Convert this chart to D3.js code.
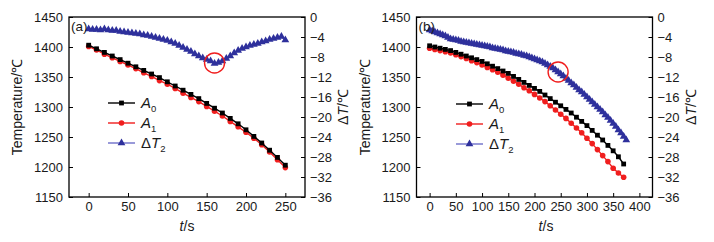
<!DOCTYPE html>
<html>
<head>
<meta charset="utf-8">
<script src="https://cdn.jsdelivr.net/npm/d3@7"></script>
<style>
  body { margin: 0; background: #fff; }
  svg { display: block; font-family: "Liberation Sans", Arial, sans-serif; }
</style>
</head>
<body>
<svg id="chart"></svg>
<script>
// Data
// panel (a): A0 and A1 every 10 s, dT2 every 5 s
const timeA = d3.range(0, 251, 10);
const a0A = [1403, 1397, 1391, 1385, 1379, 1373, 1367, 1361, 1355, 1349, 1342, 1335, 1328, 1321, 1314, 1306,
  1298, 1290, 1281, 1272, 1262, 1251, 1240, 1228, 1216, 1203];
const a1A = [1401, 1395, 1388, 1382, 1376, 1370, 1364, 1357, 1351, 1344, 1338, 1331, 1323, 1316, 1309, 1301,
  1293, 1285, 1276, 1267, 1258, 1248, 1237, 1225, 1212, 1199];
const dtTimeA = d3.range(0, 251, 5);
const dtA = [-2.4, -2.5, -2.5, -2.6, -2.4, -2.6, -2.7, -2.7, -2.9, -3.0, -3.1, -3.2, -3.3, -3.4, -3.6, -3.7,
  -3.9, -4.1, -4.3, -4.5, -4.7, -5.0, -5.3, -5.7, -6.1, -6.5, -6.9, -7.4, -7.8, -8.2, -8.5, -8.8, -9.3, -9.1,
  -8.8, -8.3, -7.8, -7.2, -6.7, -6.3, -6.0, -5.7, -5.5, -5.3, -5.0, -4.8, -4.5, -4.3, -4.1, -3.9, -4.6];

// panel (b)
const timeB = d3.range(0, 371, 10);
const a0B = [1402, 1400, 1398, 1396, 1394, 1391, 1388, 1385, 1382, 1379, 1376, 1372, 1368, 1364, 1360, 1356,
  1351, 1346, 1341, 1336, 1331, 1326, 1320, 1314, 1308, 1302, 1296, 1290, 1283, 1276, 1269, 1261, 1253, 1245,
  1236, 1227, 1217, 1205];
const a1B = [1398, 1396, 1394, 1392, 1390, 1387, 1384, 1381, 1377, 1374, 1370, 1366, 1362, 1358, 1353, 1348,
  1343, 1338, 1332, 1327, 1321, 1315, 1309, 1302, 1295, 1288, 1281, 1273, 1265, 1257, 1248, 1239, 1229, 1219,
  1209, 1198, 1190, 1183];
const dtTimeB = d3.range(0, 376, 5);
const dtB = [-2.6, -2.8, -3.0, -3.2, -3.4, -3.6, -3.8, -4.1, -4.4, -4.5, -4.6, -4.7, -4.9, -5.0, -5.1, -5.2,
  -5.3, -5.4, -5.5, -5.6, -5.7, -5.8, -5.9, -6.0, -6.2, -6.3, -6.4, -6.5, -6.6, -6.8, -6.9, -7.0, -7.1, -7.3,
  -7.4, -7.5, -7.7, -7.8, -8.0, -8.2, -8.4, -8.6, -8.8, -9.0, -9.3, -9.6, -9.9, -10.2, -10.6, -11.0, -11.4,
  -11.8, -12.3, -12.7, -13.2, -13.6, -14.1, -14.6, -15.0, -15.5, -16.0, -16.5, -17.0, -17.5, -18.0, -18.5,
  -19.0, -19.6, -20.1, -20.7, -21.3, -21.9, -22.6, -23.2, -23.9, -24.6];

// axis ticks
const tempTicks = d3.range(1150, 1451, 50);
const dtTicks = d3.range(-36, 1, 4);
const timeTicksA = d3.range(0, 251, 50);
const timeTicksB = d3.range(0, 401, 50);

// red circled points
const markA = { t: 160, dt: -9.2 };
const markB = { t: 245, dt: -11.0 };

const width = 714;
const height = 242;
const plotTop = 17, plotBottom = 197;

const svg = d3.select('#chart').attr('width', width).attr('height', height);
svg.append('rect').attr('width', width).attr('height', height).attr('fill', '#fff');

const blue = '#2e309c';
const lightBlue = '#6d6fc9';
const red = '#f01e1e';
const fmt = d3.format('d');

function drawPanel(opt) {
  const x = d3.scaleLinear().domain(opt.xDomain).range([opt.left, opt.right]);
  const yT = d3.scaleLinear().domain([1150, 1450]).range([plotBottom, plotTop]);
  const yD = d3.scaleLinear().domain([-36, 0]).range([plotBottom, plotTop]);
  const g = svg.append('g');

  // axes
  const styleAxis = sel => {
    sel.select('.domain').remove();
    sel.selectAll('line').attr('stroke', '#000').attr('stroke-width', 1);
    sel.selectAll('text').attr('fill', '#1a1a1a').style('font-size', '13px');
  };
  g.append('g').attr('transform', `translate(${opt.left},0)`)
    .call(d3.axisLeft(yT).tickValues(tempTicks).tickFormat(fmt).tickSize(-4).tickPadding(6))
    .call(styleAxis);
  g.append('g').attr('transform', `translate(${opt.right},0)`)
    .call(d3.axisRight(yD).tickValues(dtTicks).tickFormat(fmt).tickSize(-4).tickPadding(5))
    .call(styleAxis);
  g.append('g').attr('transform', `translate(0,${plotBottom})`)
    .call(d3.axisBottom(x).tickValues(opt.xTicks).tickFormat(fmt).tickSize(-4).tickPadding(5))
    .call(styleAxis);

  // frame
  g.append('rect')
    .attr('x', opt.left).attr('y', plotTop)
    .attr('width', opt.right - opt.left).attr('height', plotBottom - plotTop)
    .attr('fill', 'none').attr('stroke', '#000').attr('stroke-width', 1.3);

  // dT2 series
  const dtData = opt.dtTime.map((t, i) => [t, opt.dt[i]]);
  g.append('path').datum(dtData)
    .attr('fill', 'none').attr('stroke', lightBlue).attr('stroke-width', 1.8)
    .attr('d', d3.line().x(d => x(d[0])).y(d => yD(d[1])));
  const tri = d3.symbol().type(d3.symbolTriangle).size(26);
  g.append('g').selectAll('path').data(dtData).join('path')
    .attr('d', tri)
    .attr('transform', d => `translate(${x(d[0])},${yD(d[1])})`)
    .attr('fill', blue);

  // A1 (red) then A0 (black) on top
  const lineT = d3.line().x(d => x(d[0])).y(d => yT(d[1]));
  const a1Data = opt.time.map((t, i) => [t, opt.a1[i]]);
  const a0Data = opt.time.map((t, i) => [t, opt.a0[i]]);
  g.append('path').datum(a1Data)
    .attr('fill', 'none').attr('stroke', red).attr('stroke-width', 1.4).attr('d', lineT);
  g.append('g').selectAll('circle').data(a1Data).join('circle')
    .attr('cx', d => x(d[0])).attr('cy', d => yT(d[1])).attr('r', 2.8).attr('fill', red);
  g.append('path').datum(a0Data)
    .attr('fill', 'none').attr('stroke', '#000').attr('stroke-width', 1.4).attr('d', lineT);
  g.append('g').selectAll('rect').data(a0Data).join('rect')
    .attr('x', d => x(d[0]) - 2.4).attr('y', d => yT(d[1]) - 2.4)
    .attr('width', 4.8).attr('height', 4.8).attr('fill', '#000');

  // highlight circle
  g.append('circle')
    .attr('cx', x(opt.mark.t)).attr('cy', yD(opt.mark.dt)).attr('r', 10)
    .attr('fill', 'none').attr('stroke', red).attr('stroke-width', 1.4);

  // panel letter
  g.append('text').attr('x', opt.left + 2).attr('y', plotTop + 14)
    .style('font-size', '13.5px').attr('fill', '#1a1a1a').text(opt.letter);

  // axis titles
  g.append('text')
    .attr('transform', `translate(${opt.left - 47},${(plotTop + plotBottom) / 2}) rotate(-90)`)
    .attr('text-anchor', 'middle').style('font-size', '14px').attr('fill', '#1a1a1a')
    .text('Temperature/℃');
  const dtTitle = g.append('text')
    .attr('transform', `translate(${opt.right + 43},${(plotTop + plotBottom) / 2}) rotate(-90)`)
    .attr('text-anchor', 'middle').style('font-size', '14px').attr('fill', '#1a1a1a');
  dtTitle.append('tspan').text('Δ');
  dtTitle.append('tspan').style('font-style', 'italic').text('T');
  dtTitle.append('tspan').text('/℃');
  const tTitle = g.append('text')
    .attr('x', opt.tLabelX).attr('y', 231)
    .attr('text-anchor', 'middle').style('font-size', '14px').attr('fill', '#1a1a1a');
  tTitle.append('tspan').style('font-style', 'italic').text('t');
  tTitle.append('tspan').text('/s');

  // legend
  const lg = g.append('g').attr('transform', `translate(${opt.legend[0]},${opt.legend[1]})`);
  const items = [
    { base: 'A', pre: '', sub: '0', color: '#000', line: '#000', shape: 'square' },
    { base: 'A', pre: '', sub: '1', color: red, line: red, shape: 'circle' },
    { base: 'T', pre: 'Δ', sub: '2', color: blue, line: lightBlue, shape: 'tri' }
  ];
  items.forEach((it, i) => {
    const row = lg.append('g').attr('transform', `translate(0,${i * 20})`);
    row.append('line').attr('x1', 0).attr('x2', 27).attr('y1', 0).attr('y2', 0)
      .attr('stroke', it.line).attr('stroke-width', 1.4);
    if (it.shape === 'square') {
      row.append('rect').attr('x', 11.1).attr('y', -2.4).attr('width', 4.8).attr('height', 4.8).attr('fill', it.color);
    } else if (it.shape === 'circle') {
      row.append('circle').attr('cx', 13.5).attr('cy', 0).attr('r', 2.8).attr('fill', it.color);
    } else {
      row.append('path').attr('d', tri).attr('transform', 'translate(13.5,0)').attr('fill', it.color);
    }
    const txt = row.append('text').attr('x', 33).attr('y', 5).style('font-size', '15px').attr('fill', '#1a1a1a');
    if (it.pre) txt.append('tspan').text(it.pre);
    txt.append('tspan').style('font-style', 'italic').text(it.base);
    txt.append('tspan').attr('dy', 4).style('font-size', '9.5px').text(it.sub);
  });
}

drawPanel({
  letter: '(a)', left: 69, right: 305, xDomain: [-25, 275], xTicks: timeTicksA,
  time: timeA, a0: a0A, a1: a1A, dtTime: dtTimeA, dt: dtA, mark: markA,
  tLabelX: 187, legend: [108, 103]
});
drawPanel({
  letter: '(b)', left: 416.5, right: 652.5, xDomain: [-25, 425], xTicks: timeTicksB,
  time: timeB, a0: a0B, a1: a1B, dtTime: dtTimeB, dt: dtB, mark: markB,
  tLabelX: 546, legend: [456, 104]
});
</script>
</body>
</html>
